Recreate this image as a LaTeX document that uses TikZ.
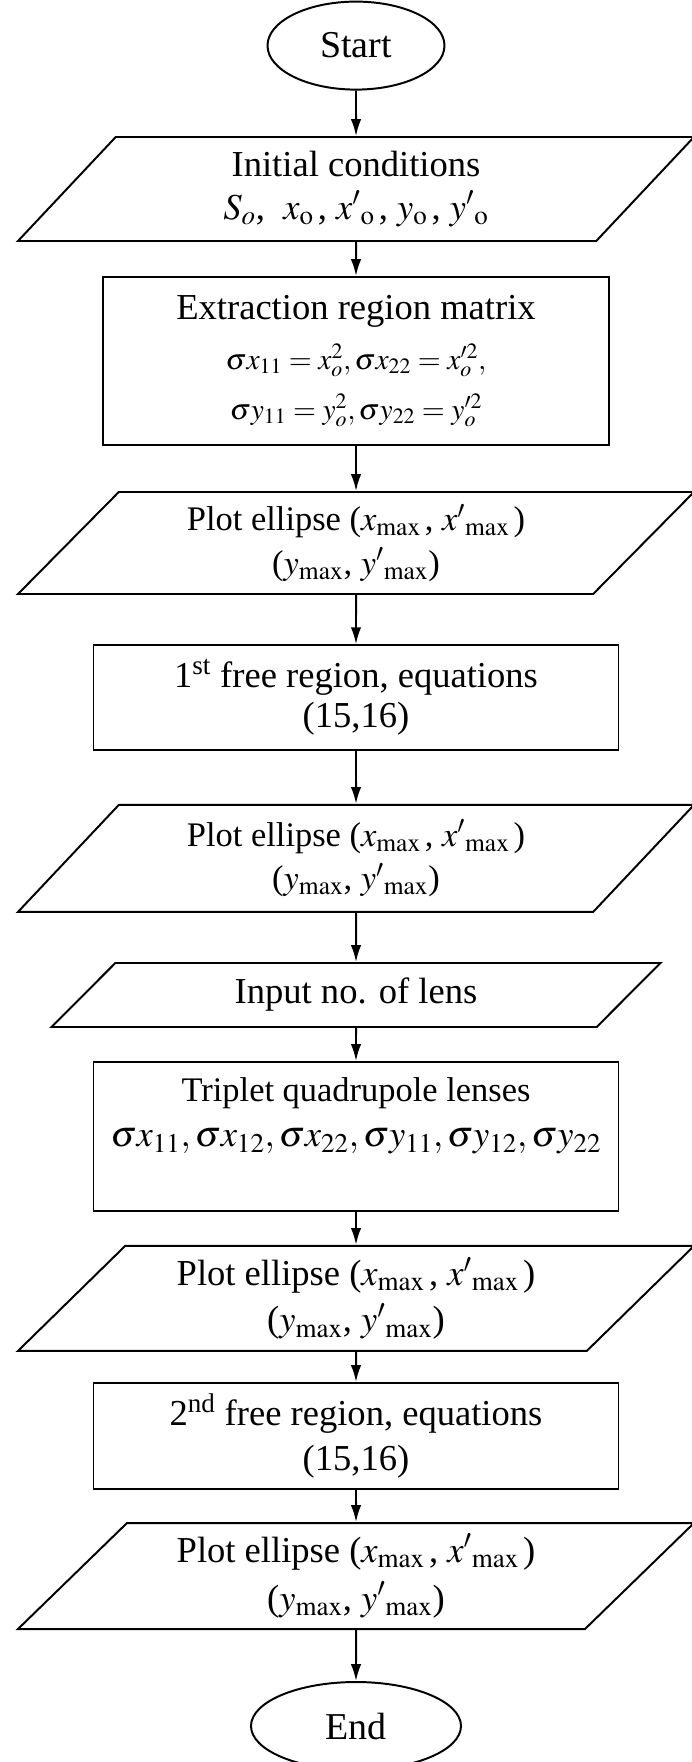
\documentclass[tikz,border=0pt]{standalone}
\usepackage{mathptmx}
\usepackage[no-math]{fontspec}
\setmainfont{Liberation Serif}
\usetikzlibrary{shapes.geometric, arrows.meta}

\newcommand{\plotlabel}{Plot ellipse ($x_{\mathrm{max}}\,$, $x'{}_{\mathrm{max}}\,$)\\($y_{\mathrm{max}}$, $y'{}_{\mathrm{max}}$)}

\begin{document}
\begin{tikzpicture}[every node/.style={font=\fontsize{26}{29}\selectfont},
    >={Latex[length=0.42cm, width=0.26cm]},
    term/.style={draw, ellipse, line width=1.4pt, inner sep=0pt},
    io/.style={draw, trapezium, trapezium left angle=37.5, trapezium right angle=142.5,
      trapezium stretches body, line width=1.4pt, minimum width=16.9cm, align=center,
      inner sep=0pt},
    proc/.style={draw, line width=1.4pt, minimum width=13.125cm, align=center, inner sep=0pt}]
  \useasboundingbox (-8.9,0) rectangle (8.4,-44.05);

  \node[term, minimum width=4.425cm, minimum height=2.2cm, font=\fontsize{27}{30}\selectfont]
    (start) at (0,-1.14) {Start};
  \node[io, minimum height=2.6cm, font=\fontsize{26}{30}\selectfont]
    (init) at (0,-4.725)
    {Initial conditions\\$S_o$,\ \ $x_{\mathrm{o}}\,$, $x'{}_{\mathrm{o}}\,$, $y_{\mathrm{o}}\,$, $y'{}_{\mathrm{o}}$};
  \node[proc, minimum width=12.65cm, minimum height=4.2cm, font=\fontsize{26}{35.6}\selectfont]
    (ext) at (0,-9.025)
    {Extraction region matrix\\
     {\fontsize{21}{35.6}\selectfont $\sigma x_{11} = x_o^2, \sigma x_{22} = x_o'^2,$}\\
     {\fontsize{21}{35.6}\selectfont $\sigma y_{11} = y_o^2, \sigma y_{22} = y_o'^2$}};
  \node[io, minimum height=2.55cm, font=\fontsize{24.5}{31}\selectfont]
    (plotA) at (0,-13.575) {\plotlabel};
  \node[proc, minimum height=2.625cm, font=\fontsize{26}{28.5}\selectfont]
    (freeA) at (0,-17.44) {1\textsuperscript{st} free region, equations\\(15,16)};
  \node[io, minimum height=2.675cm, font=\fontsize{24.5}{31}\selectfont]
    (plotB) at (0,-21.46) {\plotlabel};
  \node[io, minimum width=15.225cm, minimum height=1.6cm,
    trapezium left angle=27.7, trapezium right angle=152.3]
    (input) at (0,-24.875) {Input no. of lens};
  \node[proc, minimum height=3.725cm, text depth=1.2cm, font=\fontsize{24.5}{32}\selectfont]
    (trip) at (0,-28.41)
    {Triplet quadrupole lenses\\
     {\fontsize{26}{32}\selectfont $\sigma x_{11}, \sigma x_{12}, \sigma x_{22}, \sigma y_{11}, \sigma y_{12}, \sigma y_{22}$}};
  \node[io, minimum height=2.625cm, font=\fontsize{26}{33}\selectfont]
    (plotC) at (0,-32.46) {\plotlabel};
  \node[proc, minimum height=2.65cm, font=\fontsize{26}{32}\selectfont]
    (freeB) at (0,-35.9) {2\textsuperscript{nd} free region, equations\\(15,16)};
  \node[io, minimum height=2.65cm, font=\fontsize{26}{34}\selectfont]
    (plotD) at (0,-39.4) {\plotlabel};
  \node[term, minimum width=5.25cm, minimum height=2.2cm, font=\fontsize{27}{30}\selectfont]
    (stop) at (0,-43.15) {End};

  \foreach \a/\b in {start/init, init/ext, ext/plotA, plotA/freeA, freeA/plotB, plotB/input,
      input/trip, trip/plotC, plotC/freeB, freeB/plotD, plotD/stop}
    \draw[->, line width=1.4pt] (\a.south) -- (\b.north);
\end{tikzpicture}
\end{document}
